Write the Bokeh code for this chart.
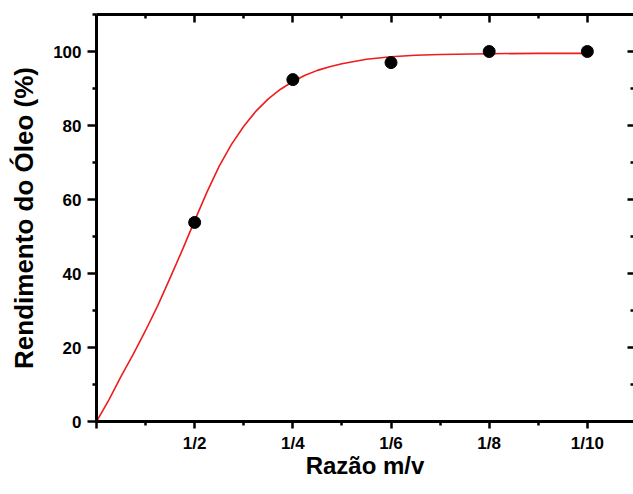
from bokeh.plotting import figure
from bokeh.models import LinearAxis, FixedTicker, Range1d
from bokeh.embed import file_html
from bokeh.resources import INLINE

# Data
ratio_pos = [1, 2, 3, 4, 5]
ratio_labels = ["1/2", "1/4", "1/6", "1/8", "1/10"]
oil_yield = [53.8, 92.4, 97.0, 100.0, 100.0]

# fitted curve
curve_x = [0, 0.125, 0.25, 0.375, 0.5, 0.625, 0.75, 0.875, 1.0, 1.125, 1.25, 1.375,
           1.5, 1.625, 1.75, 1.875, 2.0, 2.125, 2.25, 2.375, 2.5, 2.75, 3.0, 3.25,
           3.5, 4.0, 4.5, 5.0]
curve_y = [0, 5.8, 12.2, 18.2, 24.6, 31.4, 38.8, 46.4, 54.3, 62.0, 69.0, 74.9,
           79.8, 83.9, 87.2, 89.8, 91.9, 93.6, 94.9, 95.9, 96.7, 97.9, 98.6, 99.0,
           99.2, 99.4, 99.5, 99.5]

x_major = [0, 1, 2, 3, 4, 5]
x_minor = [0.5, 1.5, 2.5, 3.5, 4.5]
y_major = [0, 20, 40, 60, 80, 100]
y_minor = [10, 30, 50, 70, 90, 110]

FONT = "Liberation Sans"

p = figure(width=633, height=486, output_backend="svg", toolbar_location=None,
           x_range=Range1d(0, 5.47), y_range=Range1d(0, 110),
           min_border_left=96, min_border_right=0, min_border_top=14, min_border_bottom=65)
p.outline_line_color = None
p.xgrid.visible = False
p.ygrid.visible = False
p.background_fill_color = "white"
p.border_fill_color = "white"

p.line(curve_x, curve_y, line_color="#ee1c1c", line_width=1.6, line_join="round")
p.scatter(ratio_pos, oil_yield, size=12, color="black")


def style(ax, ticker, inward=False):
    ax.ticker = ticker
    ax.axis_line_width = 3
    ax.axis_line_color = "black"
    ax.major_tick_line_width = 2.5
    ax.minor_tick_line_width = 2.5
    ax.major_tick_line_color = "black"
    ax.minor_tick_line_color = "black"
    if inward:
        ax.major_tick_in = 8
        ax.major_tick_out = 0
        ax.minor_tick_in = 4
        ax.minor_tick_out = 0
        ax.major_label_overrides = {t: "" for t in ticker.ticks}
        ax.major_label_text_font_size = "1px"
        ax.major_label_standoff = 0
        ax.axis_label = None
    else:
        ax.major_tick_in = 0
        ax.major_tick_out = 8
        ax.minor_tick_in = 0
        ax.minor_tick_out = 4
        ax.major_label_text_font = FONT
        ax.major_label_text_font_style = "bold"
        ax.major_label_text_font_size = "17px"
        ax.major_label_text_color = "black"
        ax.axis_label_text_font = FONT
        ax.axis_label_text_font_style = "bold"
        ax.axis_label_text_font_size = "24px"
        ax.axis_label_text_color = "black"


xa = p.xaxis[0]
style(xa, FixedTicker(ticks=x_major, minor_ticks=x_minor))
overrides = {0: ""}
for pos, lab in zip(ratio_pos, ratio_labels):
    overrides[pos] = lab
xa.major_label_overrides = overrides
xa.axis_label = "Razão m/v"
xa.major_tick_out = 7
xa.major_label_standoff = 5
xa.axis_label_standoff = -4

ya = p.yaxis[0]
style(ya, FixedTicker(ticks=y_major, minor_ticks=y_minor))
ya.axis_label = "Rendimento do Óleo (%)"
ya.axis_label_text_font_size = "26px"
ya.major_tick_out = 9
ya.major_label_standoff = 6
ya.axis_label_standoff = 11

top = LinearAxis()
style(top, FixedTicker(ticks=x_major, minor_ticks=x_minor), inward=True)
p.add_layout(top, "above")

right = LinearAxis()
style(right, FixedTicker(ticks=y_major, minor_ticks=y_minor), inward=True)
right.axis_line_color = None
right.major_tick_in = 6
right.minor_tick_in = 3
p.add_layout(right, "right")

open("out.html", "w").write(file_html(p, INLINE))
